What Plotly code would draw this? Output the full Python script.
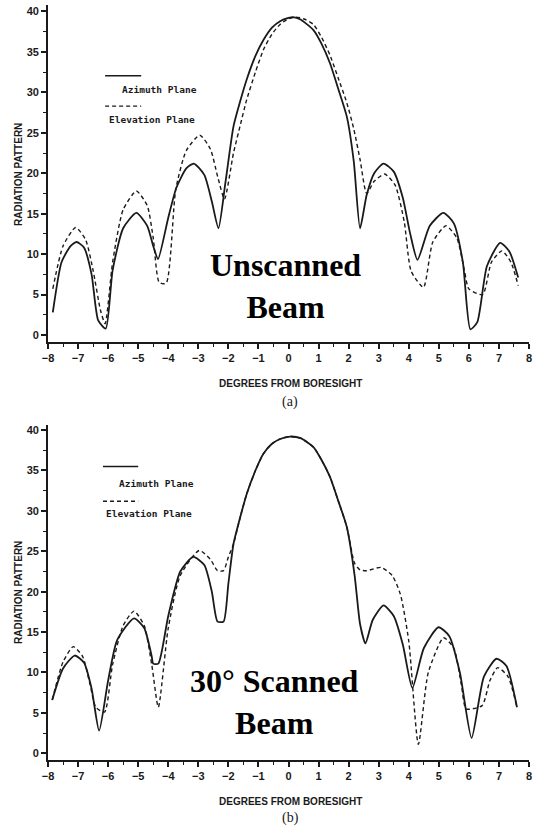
import plotly.graph_objects as go

# ---------------- data ----------------
# (a) Unscanned beam
az_a_x = [-7.84, -7.55, -7.25, -7.05, -6.8, -6.55, -6.33, -6.08, -5.85, -5.5, -5.06, -4.7, -4.5, -4.34,
          -4.0, -3.73, -3.4, -3.15, -2.8, -2.55, -2.33, -2.1, -1.83, -1.6, -1.39, -1.1, -0.83, -0.55,
          -0.28, 0.0, 0.15, 0.4, 0.83, 1.1, 1.38, 1.65, 1.94, 2.17, 2.38, 2.6, 2.85, 3.16, 3.5, 3.8,
          4.05, 4.29, 4.7, 5.15, 5.5, 5.8, 6.05, 6.28, 6.6, 7.04, 7.35, 7.64]
az_a_y = [2.8, 9.0, 11.0, 11.5, 10.8, 7.5, 1.8, 0.8, 8.0, 13.2, 15.1, 13.5, 11.0, 9.4,
          14.5, 18.2, 20.6, 21.2, 19.8, 16.5, 13.2, 18.8, 25.8, 29.0, 31.6, 34.5, 36.5, 38.0,
          38.8, 39.2, 39.3, 39.0, 37.7, 36.0, 33.6, 30.5, 27.0, 21.5, 13.2, 17.3, 20.0, 21.2, 20.2, 17.0,
          12.5, 9.3, 13.5, 15.1, 13.8, 9.0, 0.7, 1.6, 8.5, 11.4, 10.3, 7.1]

el_a_x = [-7.84, -7.5, -7.08, -6.75, -6.5, -6.25, -6.1, -5.85, -5.5, -5.06, -4.7, -4.5, -4.3, -4.07,
          -3.75, -3.4, -2.95, -2.6, -2.35, -2.13, -1.83, -1.6, -1.39, -1.1, -0.83, -0.55, -0.28, 0.0,
          0.25, 0.5, 0.83, 1.1, 1.38, 1.65, 1.94, 2.17, 2.38, 2.6, 2.85, 3.2, 3.55, 3.85, 4.08, 4.49,
          4.8, 5.24, 5.6, 5.85, 6.0, 6.46, 6.75, 7.1, 7.4, 7.64]
el_a_y = [5.7, 11.0, 13.3, 11.8, 8.0, 3.0, 1.4, 9.0, 15.5, 17.8, 16.0, 12.0, 6.5, 6.4,
          18.0, 22.8, 24.7, 23.0, 19.5, 16.8, 22.5, 26.0, 29.1, 32.5, 35.3, 37.2, 38.4, 39.1,
          39.3, 39.1, 38.4, 36.8, 34.6, 31.8, 28.7, 25.5, 21.7, 17.5, 19.0, 19.9, 18.5, 14.0, 7.9, 5.9,
          11.5, 13.5, 12.0, 8.0, 5.7, 5.0, 9.0, 10.4, 9.0, 6.1]

# (b) 30 degree scanned beam
az_b_x = [-7.86, -7.5, -7.11, -6.8, -6.55, -6.3, -6.0, -5.7, -5.14, -4.8, -4.55, -4.5, -4.33, -4.0,
          -3.6, -3.17, -2.8, -2.55, -2.36, -2.16, -2.0, -1.83, -1.6, -1.39, -1.1, -0.83, -0.55, -0.28,
          0.05, 0.4, 0.83, 1.1, 1.38, 1.65, 1.94, 2.2, 2.38, 2.56, 2.8, 3.16, 3.5, 3.8, 4.12, 4.5,
          4.99, 5.35, 5.7, 6.09, 6.5, 6.92, 7.25, 7.6]
az_b_y = [6.6, 10.5, 12.1, 11.2, 8.0, 2.8, 9.0, 14.0, 16.7, 15.5, 12.0, 11.1, 11.1, 17.0,
          22.5, 24.3, 23.3, 20.0, 16.3, 16.3, 21.0, 25.9, 29.3, 32.1, 35.0, 37.1, 38.3, 38.9,
          39.2, 39.0, 37.9, 36.3, 34.2, 31.3, 28.0, 22.0, 16.0, 13.6, 16.5, 18.3, 17.0, 13.5, 8.1, 13.0,
          15.6, 14.5, 10.0, 1.9, 9.5, 11.7, 10.8, 5.7]

el_b_x = [-7.86, -7.5, -7.16, -6.85, -6.6, -6.41, -6.12, -5.85, -5.5, -5.14, -4.8, -4.55, -4.33, -4.0,
          -3.6, -2.97, -2.6, -2.36, -2.16, -2.0, -1.83, -1.6, -1.39, -1.1, -0.83, -0.55, -0.28,
          0.05, 0.4, 0.83, 1.1, 1.38, 1.65, 1.94, 2.2, 2.38, 2.6, 3.08, 3.45, 3.72, 4.0, 4.32,
          4.65, 5.16, 5.5, 5.75, 5.91, 6.44, 6.7, 6.96, 7.3, 7.6]
el_b_y = [6.6, 11.3, 13.2, 12.0, 8.5, 5.7, 5.1, 11.0, 15.8, 17.6, 15.8, 11.0, 5.7, 15.5,
          22.0, 25.1, 24.0, 22.6, 22.6, 24.3, 25.9, 29.3, 32.1, 35.0, 37.1, 38.3, 38.9,
          39.2, 39.0, 37.9, 36.3, 34.2, 31.3, 28.0, 23.5, 22.7, 22.6, 23.0, 22.0, 19.7, 13.9, 1.1,
          10.0, 14.3, 13.0, 8.5, 5.5, 5.9, 9.0, 10.6, 9.5, 5.7]

x_ticks = list(range(-8, 9))
y_ticks = [0, 5, 10, 15, 20, 25, 30, 35, 40]
series_names = ["Azimuth Plane", "Elevation Plane"]
panel_titles = ["Unscanned<br>Beam", "30° Scanned<br>Beam"]
panel_labels = ["(a)", "(b)"]
x_title = "DEGREES FROM BORESIGHT"
y_title = "RADIATION PATTERN"

# ---------------- figure ----------------
INK = "#1a1a1a"
fig = go.Figure()

panels = [
    (az_a_x, az_a_y, el_a_x, el_a_y, "x", "y"),
    (az_b_x, az_b_y, el_b_x, el_b_y, "x2", "y2"),
]
for ax, ay, ex, ey, xr, yr in panels:
    fig.add_trace(go.Scatter(x=ax, y=ay, mode="lines", name=series_names[0], xaxis=xr, yaxis=yr,
                             line=dict(color=INK, width=1.8, shape="spline", smoothing=0.6),
                             showlegend=False))
    fig.add_trace(go.Scatter(x=ex, y=ey, mode="lines", name=series_names[1], xaxis=xr, yaxis=yr,
                             line=dict(color=INK, width=1.4, dash="4px,3px", shape="spline",
                                       smoothing=0.6),
                             showlegend=False))

tickfont = dict(family="Liberation Sans", size=11, color=INK, weight="bold")
xaxis_common = dict(range=[-8, 8.0], tickmode="array", tickvals=x_ticks, ticks="outside",
                    ticklen=5, tickwidth=1.5, tickcolor=INK, showline=True, linecolor=INK,
                    linewidth=1.8, showgrid=False, zeroline=False, tickfont=tickfont,
                    minor=dict(dtick=0.5, ticks="outside", ticklen=3, tickcolor=INK, tickwidth=1.2))
yaxis_common = dict(tickmode="array", tickvals=y_ticks, ticks="outside", ticklen=5,
                    tickwidth=1.5, tickcolor=INK, showline=True, linecolor=INK, linewidth=1.8,
                    showgrid=False, zeroline=False, tickfont=tickfont,
                    minor=dict(dtick=2.5, ticks="outside", ticklen=3, tickcolor=INK, tickwidth=1.2))

fig.update_layout(
    width=542, height=828,
    margin=dict(l=48, r=13, t=5, b=68),
    paper_bgcolor="white", plot_bgcolor="white",
    xaxis=dict(domain=[0, 1], anchor="y", **xaxis_common),
    yaxis=dict(domain=[0.554, 1], anchor="x", range=[-0.83, 40.8], **yaxis_common),
    xaxis2=dict(domain=[0, 1], anchor="y2", **xaxis_common),
    yaxis2=dict(domain=[0, 0.4434], anchor="x2", range=[-0.83, 40.6], **yaxis_common),
)

# legends (sample lines + labels inside each panel)
leg_font = dict(family="DejaVu Sans Mono", size=9.5, color=INK, weight="bold")
legend_pos = [
    ("x", "y", -6.10, -4.90, 32.05, 30.4, 28.3, 26.7, -5.6, -6.04),
    ("x2", "y2", -6.17, -5.0, 35.5, 33.4, 31.2, 29.7, -5.69, -6.14),
]
for xr, yr, x0, x1, ysol, ytxt1, ydash, ytxt2, xt1, xt2 in legend_pos:
    fig.add_shape(type="line", xref=xr, yref=yr, x0=x0, x1=x1, y0=ysol, y1=ysol,
                  line=dict(color=INK, width=1.6))
    fig.add_shape(type="line", xref=xr, yref=yr, x0=x0, x1=x1, y0=ydash, y1=ydash,
                  line=dict(color=INK, width=1.4, dash="4px,3px"))
    fig.add_annotation(x=xt1, y=ytxt1, xref=xr, yref=yr, text=series_names[0], showarrow=False,
                       xanchor="left", yanchor="middle", font=leg_font)
    fig.add_annotation(x=xt2, y=ytxt2, xref=xr, yref=yr, text=series_names[1], showarrow=False,
                       xanchor="left", yanchor="middle", font=leg_font)

# big panel captions
big_font = dict(family="Liberation Serif", size=32, color="black", weight="bold")
fig.add_annotation(x=-0.11, y=6.0, xref="x", yref="y", text=panel_titles[0], showarrow=False,
                   font=big_font, xanchor="center", yanchor="middle")
fig.add_annotation(x=-0.45, y=6.4, xref="x2", yref="y2", text=panel_titles[1], showarrow=False,
                   font=big_font, xanchor="center", yanchor="middle")

# axis titles and (a)/(b) labels, in pixel-based paper coordinates
def py(p):
    return 1 - (p - 5) / 755.0

def px(p):
    return (p - 48) / 481.0

title_font = dict(family="Liberation Sans", size=10, color=INK, weight="bold")
for ytitle_y, xtitle_y, lab_y, lab in [(175, 383, 402, panel_labels[0]), (593, 801, 818, panel_labels[1])]:
    fig.add_annotation(x=px(18), y=py(ytitle_y), xref="paper", yref="paper", text=y_title,
                       textangle=-90, showarrow=False, font=title_font,
                       xanchor="center", yanchor="middle")
    fig.add_annotation(x=px(290), y=py(xtitle_y), xref="paper", yref="paper", text=x_title,
                       showarrow=False, font=title_font, xanchor="center", yanchor="middle")
    fig.add_annotation(x=px(290), y=py(lab_y), xref="paper", yref="paper", text=lab,
                       showarrow=False, font=dict(family="Liberation Serif", size=14, color=INK),
                       xanchor="center", yanchor="middle")

fig.write_html("out.html")
